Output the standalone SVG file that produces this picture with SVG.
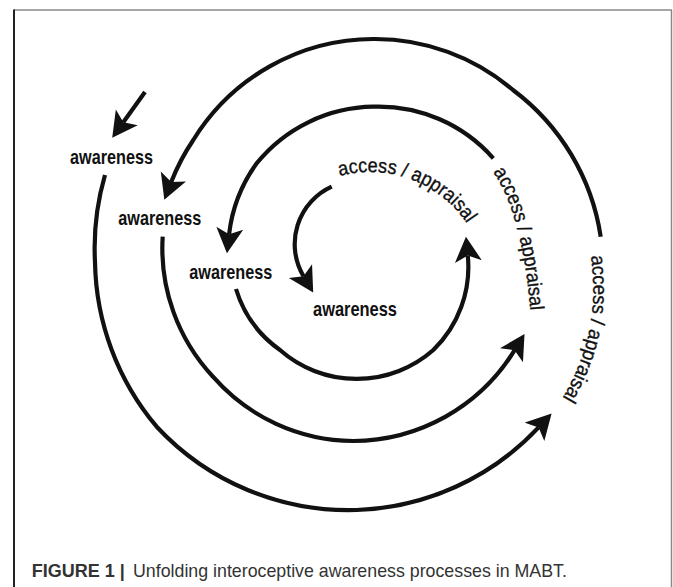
<svg xmlns="http://www.w3.org/2000/svg" width="673" height="587" viewBox="0 0 673 587">
  <style>
    .ln { fill: none; stroke: #111; stroke-width: 4.2; stroke-linecap: butt; marker-end: url(#ah); }
    .aw { font-family: "Liberation Sans", Arial, sans-serif; font-weight: bold; font-size: 21px; fill: #111; }
    .ap { font-family: "Liberation Sans", Arial, sans-serif; font-size: 20px; fill: #111; stroke: #111; stroke-width: 0.35; }
    .cap { font-family: "Liberation Sans", Arial, sans-serif; fill: #333; }
  </style>
  <defs>
    <marker id="ah" markerUnits="userSpaceOnUse" viewBox="0 0 30 30" markerWidth="30" markerHeight="30" refX="6" refY="14" orient="auto">
      <path d="M25,14 L0,0.5 L6,14 L0,27.5 Z" fill="#111"/>
    </marker>
    <!-- baselines for the curved labels -->
    <path id="p-ap1" d="M339.7,176 A117,117 0 0 1 483,258.7"/>
    <path id="p-ap2" d="M493,172 C514,202 527,255 531,322"/>
    <path id="p-ap3" d="M591,256 C596,300 595,345 559,404"/>
  </defs>

  <rect width="673" height="587" fill="#fff"/>

  <!-- frame -->
  <g id="frame" fill="none">
    <line x1="14" y1="10" x2="672" y2="10" stroke="#888" stroke-width="1.5"/>
    <line x1="671.5" y1="10" x2="671.5" y2="587" stroke="#888" stroke-width="1.5"/>
    <line x1="14" y1="9.5" x2="14" y2="587" stroke="#222" stroke-width="2"/>
  </g>

  <!-- spiral arcs -->
  <g id="connectors">
    <path id="c-entry" class="ln" d="M145,92 L123.3,122.2"/>
    <path id="c-outer-low" class="ln" d="M105,175 A262,262 0 0 0 95,262 A262,262 0 0 0 156.7,426.7 A262,262 0 0 0 356.7,510 A262,262 0 0 0 538.6,427.4"/>
    <path id="c-outer-up" class="ln" d="M600.7,236.7 A225,225 0 0 0 513,90 A212,212 0 0 0 373.3,39 A212,212 0 0 0 193.3,140 A212,212 0 0 0 171.2,182.1"/>
    <path id="c-mid-low" class="ln" d="M162.7,236.7 A188,188 0 0 0 213,376.7 A188,188 0 0 0 353,441 A190,190 0 0 0 514.6,350.2"/>
    <path id="c-mid-up" class="ln" d="M493.3,158.3 A153,153 0 0 0 373.3,106.7 A153,153 0 0 0 256.7,163.3 A150,150 0 0 0 229.1,234.3"/>
    <path id="c-in-low" class="ln" d="M236,289 A116,116 0 0 0 280,350 A116,116 0 0 0 433.3,350 A116,116 0 0 0 467.8,255.6"/>
    <path id="c-in-up" class="ln" d="M331.7,186.7 A63,63 0 0 0 303.5,276.2"/>
  </g>

  <!-- awareness labels -->
  <g id="awareness-1"><text class="aw" x="70" y="163.5" textLength="83" lengthAdjust="spacingAndGlyphs">awareness</text></g>
  <g id="awareness-2"><text class="aw" x="118.3" y="224.5" textLength="83" lengthAdjust="spacingAndGlyphs">awareness</text></g>
  <g id="awareness-3"><text class="aw" x="189.3" y="279" textLength="83" lengthAdjust="spacingAndGlyphs">awareness</text></g>
  <g id="awareness-4"><text class="aw" x="313" y="315.5" textLength="84" lengthAdjust="spacingAndGlyphs">awareness</text></g>

  <!-- access / appraisal labels -->
  <g id="appraisal-1"><text class="ap"><textPath href="#p-ap1" textLength="145" lengthAdjust="spacingAndGlyphs">access / appraisal</textPath></text></g>
  <g id="appraisal-2"><text class="ap"><textPath href="#p-ap2" textLength="145" lengthAdjust="spacingAndGlyphs">access / appraisal</textPath></text></g>
  <g id="appraisal-3"><text class="ap"><textPath href="#p-ap3" textLength="148" lengthAdjust="spacingAndGlyphs">access / appraisal</textPath></text></g>

  <!-- caption -->
  <g id="caption">
    <text class="cap" x="31.7" y="576.7" font-size="18" font-weight="bold">FIGURE 1 |</text>
    <text class="cap" x="133" y="576.7" font-size="17.8" fill="#444">Unfolding interoceptive awareness processes in MABT.</text>
  </g>
</svg>
